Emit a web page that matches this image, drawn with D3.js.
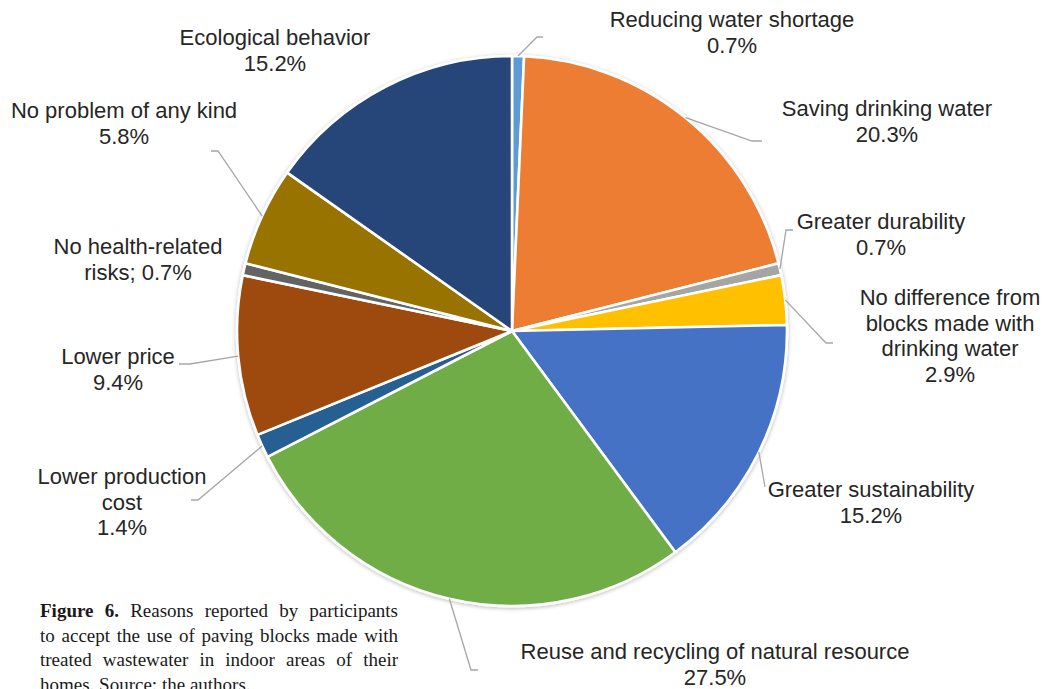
<!DOCTYPE html>
<html>
<head>
<meta charset="utf-8">
<script src="https://cdn.jsdelivr.net/npm/d3@7/dist/d3.min.js"></script>
<style>
  html, body { margin: 0; padding: 0; background: #fff; overflow: hidden; }
  svg { display: block; }
</style>
</head>
<body>
<svg id="chart" width="1047" height="689"></svg>
<script>
// Reasons for accepting paving blocks made with treated wastewater (share of answers, %)
const categories = [
  "Reducing water shortage",
  "Saving drinking water",
  "Greater durability",
  "No difference from blocks made with drinking water",
  "Greater sustainability",
  "Reuse and recycling of natural resource",
  "Lower production cost",
  "Lower price",
  "No health-related risks",
  "No problem of any kind",
  "Ecological behavior"
];
const shares = [0.7, 20.3, 0.7, 2.9, 15.2, 27.5, 1.4, 9.4, 0.7, 5.8, 15.2];
const colors = [
  "#5B9BD5", "#ED7D31", "#A5A5A5", "#FFC000", "#4472C4", "#70AD47",
  "#255E91", "#9E480E", "#636363", "#997300", "#264478"
];
// Text lines of each data label (the percentage is appended from shares)
const labelText = [
  ["Reducing water shortage"],
  ["Saving drinking water"],
  ["Greater durability"],
  ["No difference from", "blocks made with", "drinking water"],
  ["Greater sustainability"],
  ["Reuse and recycling of natural resource"],
  ["Lower production", "cost"],
  ["Lower price"],
  ["No health-related", "risks; "],
  ["No problem of any kind"],
  ["Ecological behavior"]
];
const captionBold = "Figure 6.";
const captionLines = [
  "Reasons reported by participants",
  "to accept the use of paving blocks made with",
  "treated wastewater in indoor areas of their",
  "homes. Source: the authors."
];

// ---- layout ----
const svg = d3.select("#chart");
const cx = 512, cy = 331, R = 275;
const fmt = v => d3.format(".1f")(v) + "%";

// label anchor (centre x, first baseline) and leader polyline after the slice edge
const labelPos = [
  { x: 732, y: 27, leader: [[537, 37], [543, 37]] },
  { x: 887, y: 116, leader: [[752, 141], [762, 141]] },
  { x: 881, y: 229, leader: [[786, 230], [793, 230]] },
  { x: 950, y: 305, leader: [[826, 343], [833, 343]] },
  { x: 871, y: 497, leader: [[765, 487]] },
  { x: 715, y: 659, leader: [[471, 670], [478, 670]] },
  { x: 122, y: 484, leader: [[198, 500], [191, 500]] },
  { x: 118, y: 364, leader: [[190, 364], [179, 364]] },
  { x: 138, y: 254, leader: null },
  { x: 124, y: 118, leader: [[218, 151], [211, 151]] },
  { x: 275, y: 45, leader: null }
];

const defs = svg.append("defs");
const shadow = defs.append("filter").attr("id", "soft")
  .attr("x", "-10%").attr("y", "-10%").attr("width", "120%").attr("height", "120%");
shadow.append("feDropShadow")
  .attr("dx", 0).attr("dy", 1).attr("stdDeviation", 2.2)
  .attr("flood-color", "#000").attr("flood-opacity", 0.28);

const pie = d3.pie().sort(null).value(d => d).startAngle(0).endAngle(2 * Math.PI);
const arcs = pie(shares);
const arc = d3.arc().innerRadius(0).outerRadius(R);

const g = svg.append("g").attr("transform", `translate(${cx},${cy})`);
g.append("g").attr("filter", "url(#soft)")
  .selectAll("path")
  .data(arcs)
  .join("path")
  .attr("d", arc)
  .attr("fill", (d, i) => colors[i])
  .attr("stroke", "#fff")
  .attr("stroke-width", 2.6)
  .attr("stroke-linejoin", "round");

// leader lines from the mid-angle point on the rim
const line = d3.line();
arcs.forEach((a, i) => {
  const lp = labelPos[i];
  if (!lp.leader) return;
  const mid = (a.startAngle + a.endAngle) / 2;
  const start = [cx + R * Math.sin(mid), cy - R * Math.cos(mid)];
  svg.append("path")
    .attr("d", line([start, ...lp.leader]))
    .attr("fill", "none")
    .attr("stroke", "#a6a6a6")
    .attr("stroke-width", 1.3);
});

// data labels
const labels = svg.append("g")
  .attr("font-family", "'Liberation Sans', Arial, sans-serif")
  .attr("font-size", 22)
  .attr("fill", "#262626")
  .attr("text-anchor", "middle");
arcs.forEach((a, i) => {
  const lines = labelText[i].slice();
  if (lines[lines.length - 1].endsWith(" ")) {
    lines[lines.length - 1] += fmt(shares[i]);
  } else {
    lines.push(fmt(shares[i]));
  }
  const t = labels.append("text")
    .attr("x", labelPos[i].x).attr("y", labelPos[i].y);
  lines.forEach((s, k) => {
    t.append("tspan").attr("x", labelPos[i].x).attr("dy", k === 0 ? 0 : 25.5).text(s);
  });
});

// caption, justified word by word
const capX = 40, capW = 358, capY0 = 617, capLH = 24.6, capFS = 19;
const cap = svg.append("g")
  .attr("font-family", "'Liberation Serif', 'Times New Roman', serif")
  .attr("font-size", capFS)
  .attr("fill", "#1a1a1a");
const measure = (txt, bold) => {
  const t = cap.append("text").attr("font-weight", bold ? "bold" : null).text(txt);
  const w = t.node().getComputedTextLength();
  t.remove();
  return w;
};
captionLines.forEach((ln, li) => {
  const words = ln.split(" ").map(w => ({ text: w, bold: false }));
  if (li === 0) {
    captionBold.split(" ").reverse().forEach(w => words.unshift({ text: w, bold: true }));
  }
  words.forEach(w => (w.width = measure(w.text, w.bold)));
  const total = d3.sum(words, w => w.width);
  const last = li === captionLines.length - 1;
  const space = measure("a b", false) - measure("ab", false);
  const gap = last ? space : (capW - total) / (words.length - 1);
  let x = capX;
  const y = capY0 + li * capLH;
  words.forEach(w => {
    cap.append("text").attr("x", x).attr("y", y)
      .attr("font-weight", w.bold ? "bold" : null)
      .text(w.text);
    x += w.width + gap;
  });
});
</script>
</body>
</html>
